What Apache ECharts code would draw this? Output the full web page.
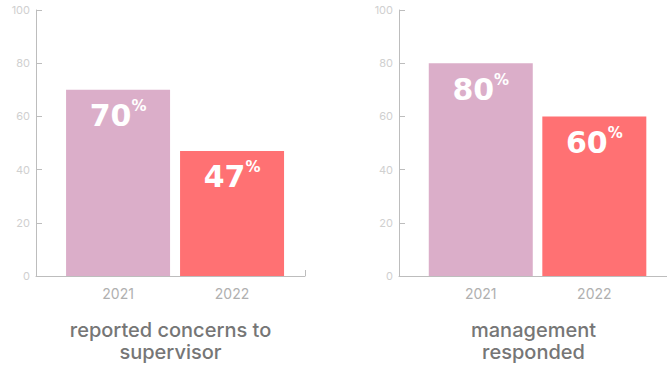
<!DOCTYPE html>
<html><head><meta charset="utf-8">
<script src="https://cdn.jsdelivr.net/npm/echarts@6/dist/echarts.min.js"></script>
<style>html,body{margin:0;padding:0;background:#fff}#c{width:667px;height:365px}</style>
</head><body><div id="c"></div>
<script>
const years = ['2021', '2022'];
const supervisorValues = [70, 47];
const managementValues = [80, 60];
const panelTitles = ['reported concerns to\nsupervisor', 'management\nresponded'];
const yMin = 0, yMax = 100, yStep = 20;
const barColors = ['#dbaec9', '#ff7173'];

const panels = [supervisorValues, managementValues];
const FONT = 'Inter, "Noto Sans", sans-serif';
const VFONT = '"DejaVu Sans", sans-serif';
const xMin = -0.72, xMax = 1.64;
const axisColor = '#bdbdbd';

const grids = [
  {left: 36, right: 362, top: 10, bottom: 89},
  {left: 399, right: -1, top: 10, bottom: 89}
];

const xAxes = panels.map((_, i) => ({
  type: 'value', gridIndex: i, min: xMin, max: xMax,
  splitLine: {show: false},
  axisLine: {show: true, lineStyle: {color: axisColor, width: 1}},
  axisTick: {show: true, inside: true, length: 6, customValues: [xMax], lineStyle: {color: axisColor}},
  axisLabel: {customValues: years.map((_, j) => j), formatter: v => years[Math.round(v)] || '',
    color: '#b0b0b0', fontSize: 14, margin: 10, fontFamily: FONT}
}));

const yAxes = panels.map((_, i) => ({
  type: 'value', gridIndex: i, min: yMin, max: yMax, interval: yStep,
  splitLine: {show: false},
  axisLine: {show: true, onZero: false, lineStyle: {color: axisColor, width: 1}},
  axisTick: {show: true, inside: true, length: 6, lineStyle: {color: axisColor}},
  axisLabel: {color: '#d0d0d0', fontSize: 11, margin: 6, fontFamily: FONT}
}));

const series = panels.map((vals, i) => ({
  type: 'bar', xAxisIndex: i, yAxisIndex: i, barWidth: 104,
  data: vals.map((v, j) => ({value: [j, v], itemStyle: {color: barColors[j]}})),
  label: {
    show: true, position: 'insideTop', distance: 9,
    formatter: p => '{n|' + p.value[1] + '}{p|%}',
    rich: {
      n: {fontSize: 30, fontWeight: 'bold', color: '#fff', fontFamily: VFONT, lineHeight: 34},
      p: {fontSize: 15, fontWeight: 'bold', color: '#fff', fontFamily: VFONT, verticalAlign: 'top', lineHeight: 17}
    }
  }
}));

const titleCenters = [170.5, 533.5];
const graphic = panelTitles.map((t, i) => ({
  type: 'text', x: titleCenters[i], y: 319,
  style: {text: t, textAlign: 'center', textVerticalAlign: 'top', fill: '#767676',
    font: '500 20px ' + FONT, lineHeight: 22}
}));

const chart = echarts.init(document.getElementById('c'), null, {renderer: 'svg'});
chart.setOption({
  animation: false,
  grid: grids, xAxis: xAxes, yAxis: yAxes, series: series, graphic: graphic
});
</script></body></html>
